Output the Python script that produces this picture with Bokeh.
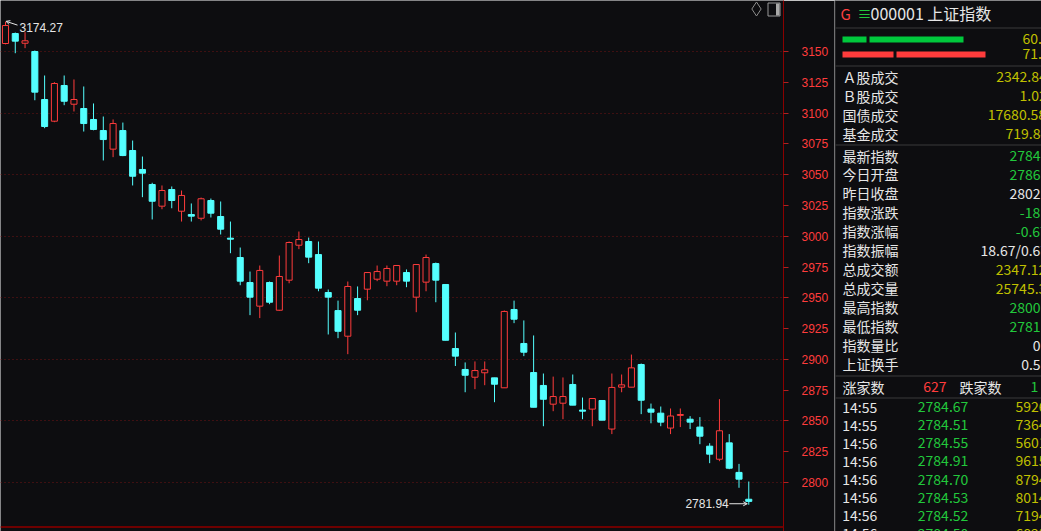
from bokeh.plotting import figure
from bokeh.layouts import row
from bokeh.models import FixedTicker, ColumnDataSource, Arrow, OpenHead, Span, Range1d
from bokeh.core.properties import value
from bokeh.embed import file_html
from bokeh.resources import INLINE

# ---------------- data ----------------
opens = [3156.5, 3164.6, 3156.7, 3150.0, 3111.0, 3093.4, 3122.4, 3107.2, 3103.7, 3094.8,
         3085.8, 3070.7, 3085.8, 3069.6, 3054.2, 3042.0, 3024.4, 3037.9, 3020.3, 3017.6,
         3014.6, 3029.0, 3016.0, 2998.4, 2982.7, 2962.4, 2943.2, 2962.4, 2939.9, 2964.3,
         2992.7, 2995.7, 2985.1, 2954.3, 2939.6, 2918.8, 2949.4, 2957.0, 2965.1, 2963.5,
         2963.5, 2970.5, 2950.5, 2962.7, 2977.8, 2960.8, 2908.8, 2891.8, 2885.5, 2889.1,
         2885.0, 2876.9, 2940.5, 2912.9, 2889.3, 2878.8, 2863.6, 2864.4, 2879.6, 2858.8,
         2859.6, 2866.6, 2843.4, 2877.4, 2877.4, 2895.8, 2859.6, 2856.3, 2844.2, 2854.5,
         2851.4, 2845.0, 2829.5, 2818.9, 2832.2, 2808.2, 2786.4]
highs = [3174.27, 3165.4, 3165.7, 3150.8, 3130.5, 3125.1, 3130.5, 3127.3, 3121.6, 3107.8,
         3097.2, 3094.8, 3092.3, 3077.7, 3064.7, 3043.4, 3041.2, 3040.4, 3037.1, 3026.6,
         3031.4, 3030.6, 3028.2, 3011.9, 2990.8, 2971.3, 2976.2, 2963.2, 2984.3, 2995.7,
         3003.8, 2998.9, 2995.7, 2956.7, 2947.7, 2963.2, 2959.2, 2970.5, 2976.2, 2976.2,
         2976.2, 2973.0, 2977.0, 2985.1, 2978.6, 2960.8, 2921.8, 2897.5, 2898.3, 2898.3,
         2885.0, 2939.7, 2947.7, 2931.6, 2919.4, 2888.5, 2886.0, 2885.3, 2887.7, 2869.0,
         2868.2, 2866.6, 2888.5, 2887.7, 2903.9, 2896.6, 2864.1, 2861.7, 2860.1, 2860.1,
         2853.9, 2853.1, 2831.9, 2867.7, 2839.3, 2815.1, 2800.8]
lows = [3155.8, 3148.6, 3152.7, 3110.4, 3087.7, 3092.6, 3106.4, 3101.3, 3085.0, 3086.0,
        3061.5, 3064.2, 3065.0, 3041.2, 3031.7, 3013.6, 3021.9, 3022.7, 3011.9, 3011.9,
        3012.8, 3015.2, 3001.4, 2986.2, 2960.2, 2935.9, 2933.5, 2944.8, 2939.5, 2961.8,
        2989.5, 2978.1, 2955.3, 2920.2, 2917.2, 2904.2, 2935.9, 2948.0, 2963.5, 2959.4,
        2960.2, 2958.6, 2938.3, 2955.3, 2946.4, 2915.5, 2894.6, 2873.3, 2875.8, 2879.0,
        2865.2, 2876.9, 2929.4, 2902.6, 2861.1, 2845.7, 2857.9, 2851.4, 2862.8, 2851.4,
        2845.7, 2850.6, 2839.3, 2873.3, 2877.4, 2855.5, 2848.1, 2845.7, 2839.3, 2845.0,
        2843.4, 2831.1, 2815.7, 2817.3, 2810.8, 2795.7, 2781.94]
closes = [3171.1, 3158.4, 3158.7, 3117.0, 3089.1, 3124.0, 3109.6, 3111.0, 3091.5, 3086.7,
          3078.5, 3091.5, 3065.5, 3048.7, 3051.2, 3028.4, 3037.1, 3029.0, 3033.1, 3016.3,
          3030.4, 3018.7, 3005.7, 2997.6, 2963.5, 2950.5, 2972.2, 2946.4, 2967.3, 2994.9,
          2997.3, 2983.0, 2957.8, 2950.5, 2922.8, 2959.2, 2939.9, 2970.5, 2971.3, 2973.8,
          2976.2, 2963.5, 2977.0, 2982.7, 2964.3, 2915.5, 2902.6, 2887.1, 2890.9, 2891.5,
          2879.8, 2938.9, 2932.6, 2905.8, 2861.1, 2867.6, 2869.8, 2869.8, 2862.8, 2857.9,
          2868.2, 2850.6, 2877.2, 2879.3, 2893.1, 2866.8, 2857.1, 2849.0, 2854.0, 2855.2,
          2849.0, 2837.6, 2823.0, 2842.0, 2811.6, 2802.7, 2784.67]

axis_ticks = [2800, 2825, 2850, 2875, 2900, 2925, 2950, 2975, 3000, 3025, 3050, 3075, 3100, 3125, 3150]
grid_ticks = [2800, 2850, 2900, 2950, 3000, 3050, 3100, 3150]

header_code = "000001 上证指数"
bar_values = [60.0, 71.0]          # total bar lengths
bar_first = [12.0, 25.5]           # first segment of each bar
bar_labels = ["60.0", "71.0"]

trade_labels = ["Ａ股成交", "Ｂ股成交", "国债成交", "基金成交"]
trade_values = ["2342.84", "1.02", "17680.58", "719.84"]

index_labels = ["最新指数", "今日开盘", "昨日收盘", "指数涨跌", "指数涨幅", "指数振幅",
                "总成交额", "总成交量", "最高指数", "最低指数", "指数量比", "上证换手"]
index_values = ["2784.67", "2786.", "2802.", "-18", "-0.67", "18.67/0.67",
                "2347.12", "25745.3", "2800.", "2781.94", "0", "0.5"]

up_count = "627"
down_count = "1"

tick_times = ["14:55", "14:55", "14:56", "14:56", "14:56", "14:56", "14:56", "14:56"]
tick_prices = ["2784.67", "2784.51", "2784.55", "2784.91", "2784.70", "2784.53", "2784.52", "2784.50"]
tick_vols = ["5926", "7364", "5601", "9615", "8794", "8014", "7194", "6823"]

# ---------------- style ----------------
BG = "#0d0d10"
UP = "#ff3c3c"
DOWN = "#54ffff"
WHITE = "#e6e6e6"
YELLOW = "#c0c000"
GREEN = "#22c83c"
SEP = "#3a3a3a"
CJK = value("Noto Sans CJK SC")

PX = 9.78            # px per candle slot
SCALE = 431 / 350.0  # px per index point
FRAME_W = 783

n = len(opens)
idx = list(range(n))

def ypt(px):
    return 3150 - (px - 51) / SCALE

p = figure(width=834, height=531,
           x_range=Range1d(-5 / PX, (FRAME_W - 5) / PX),
           y_range=Range1d(ypt(531), ypt(0)),
           x_axis_location=None, y_axis_location="right",
           toolbar_location=None, output_backend="svg",
           min_border_left=0, min_border_top=0, min_border_bottom=0, min_border_right=834 - FRAME_W,
           background_fill_color=BG, border_fill_color=BG, outline_line_color=None)

ax = p.yaxis[0]
ax.ticker = FixedTicker(ticks=axis_ticks)
ax.major_label_text_color = UP
ax.major_label_text_font = "Liberation Sans"
ax.major_label_text_font_size = "12px"
ax.major_label_standoff = 13
ax.major_tick_out = 5
ax.major_tick_in = 0
ax.minor_tick_out = 0
ax.minor_tick_in = 0
ax.major_tick_line_color = "#b02020"
ax.axis_line_color = "#8a0000"

p.xgrid.visible = False
p.ygrid.ticker = FixedTicker(ticks=grid_ticks)
p.ygrid.grid_line_color = "#701414"
p.ygrid.grid_line_dash = "1 3"

is_up = [c >= o for o, c in zip(opens, closes)]
src = ColumnDataSource(dict(
    x=idx, open=opens, close=closes, high=highs, low=lows,
    top=[max(o, c) for o, c in zip(opens, closes)],
    bottom=[min(o, c) for o, c in zip(opens, closes)],
    line=[UP if u else DOWN for u in is_up],
    fill=[BG if u else DOWN for u in is_up],
))
p.segment(x0="x", y0="high", x1="x", y1="low", line_color="line", line_width=1, source=src)
p.vbar(x="x", width=0.62, top="top", bottom="bottom", fill_color="fill", line_color="line",
       line_width=1, source=src)

# high / low markers
hi_i = max(idx, key=lambda i: highs[i])
lo_i = min(idx, key=lambda i: lows[i])
p.text(x=[hi_i], y=[highs[hi_i]], text=[f"{highs[hi_i]:.2f}"], x_offset=14, y_offset=6,
       text_baseline="middle", text_align="left", text_font=value("Liberation Sans"),
       text_font_size="12px", text_color=WHITE)
p.add_layout(Arrow(end=OpenHead(size=4, line_color=WHITE, line_width=1),
                   x_start=hi_i + 12 / PX, y_start=highs[hi_i] - 3.5 / SCALE,
                   x_end=hi_i + 0.5 / PX, y_end=highs[hi_i] + 0.3 / SCALE,
                   line_color=WHITE, line_width=1))
p.text(x=[lo_i], y=[lows[lo_i]], text=[f"{lows[lo_i]:.2f}"], x_offset=-20, y_offset=-1,
       text_baseline="middle", text_align="right", text_font=value("Liberation Sans"),
       text_font_size="12px", text_color=WHITE)
p.add_layout(Arrow(end=OpenHead(size=4, line_color=WHITE, line_width=1),
                   x_start=lo_i - 19.5 / PX, y_start=lows[lo_i] + 1 / SCALE,
                   x_end=lo_i - 1.5 / PX, y_end=lows[lo_i] + 1 / SCALE,
                   line_color=WHITE, line_width=1))

# window icons (top right of the chart area)
p.scatter(x=[(756 - 5) / PX], y=[ypt(8.5)], marker="diamond", size=14,
          fill_color=None, line_color="#8c8c8c")
p.quad(left=[(767.5 - 5) / PX], right=[(779.5 - 5) / PX], top=[ypt(2.5)], bottom=[ypt(15.5)],
       fill_color=None, line_color="#9a9a9a")
p.quad(left=[(775.5 - 5) / PX], right=[(779 - 5) / PX], top=[ypt(3)], bottom=[ypt(15)],
       fill_color="#a8a8a8", line_color=None)

p.add_layout(Span(location=ypt(526.5), dimension="width", line_color="#6e0000", line_width=2))

# ---------------- side panel ----------------
q = figure(width=207, height=531, x_range=Range1d(834, 1041), y_range=Range1d(531, 0),
           x_axis_location=None, y_axis_location=None, toolbar_location=None,
           output_backend="svg", min_border=0,
           background_fill_color=BG, border_fill_color=BG, outline_line_color=None)
q.grid.visible = False

q.segment(x0=[834.5], y0=[0], x1=[834.5], y1=[531], line_color=SEP, line_width=1)
q.segment(x0=[835] * 5, y0=[27.5, 65.5, 144.5, 375.5, 397.5], x1=[1041] * 5,
          y1=[27.5, 65.5, 144.5, 375.5, 397.5], line_color=SEP, line_width=1)
q.segment(x0=[835], y0=[526.5], x1=[1041], y1=[526.5], line_color="#6e0000", line_width=0)

def txt(xs, ys, texts, color, size="14px", align="left", font=CJK):
    q.text(x=xs, y=ys, text=texts, text_color=color, text_font=font, text_font_size=size,
           text_baseline="middle", text_align=align)

txt([840], [12.5], ["G"], "#ff4040", size="15px")
txt([857], [12], ["≡"], "#22c83c", size="14px")
txt([870], [12.5], [header_code], WHITE, size="16px")

# sentiment bars
bar_y = [39, 54]
bar_col = ["#00c83c", "#ff3c3c"]
for v, f, yy, c, lab in zip(bar_values, bar_first, bar_y, bar_col, bar_labels):
    q.quad(left=[842, 842 + f * 2 + 3], right=[842 + f * 2, 842 + v * 2 + 1],
           top=[yy - 3, yy - 3], bottom=[yy + 3, yy + 3], fill_color=c, line_color=None)
    txt([1022], [yy - 1], [lab], YELLOW)

tv_x = [995.7, 1019, 987.3, 1005]
tv_c = [YELLOW] * 4
ty = [76.3 + 19 * k for k in range(4)]
txt([842] * 4, ty, trade_labels, WHITE)
txt(tv_x, ty, trade_values, tv_c)

iv_x = [1009, 1009, 1009, 1019.3, 1015.3, 980, 995.3, 995.3, 1009, 1009, 1032.3, 1020.7]
iv_c = [GREEN, GREEN, WHITE, GREEN, GREEN, WHITE, YELLOW, YELLOW, GREEN, GREEN, WHITE, WHITE]
iy = [155 + 18.97 * k for k in range(12)]
txt([842] * 12, iy, index_labels, WHITE)
for x_, y_, t_, c_ in zip(iv_x, iy, index_values, iv_c):
    txt([x_], [y_], [t_], c_)

txt([842], [386], ["涨家数"], WHITE)
txt([946], [386], [up_count], UP, align="right")
txt([959], [386], ["跌家数"], WHITE)
txt([1030], [386], [down_count], GREEN)

ky = [406.3 + 18.06 * k for k in range(len(tick_times))]
txt([841.7] * len(ky), ky, tick_times, WHITE)
txt([917.3] * len(ky), ky, tick_prices, GREEN)
txt([1015] * len(ky), ky, tick_vols, YELLOW)

layout = row(p, q, spacing=0)

open("out.html", "w").write(file_html(layout, INLINE))
